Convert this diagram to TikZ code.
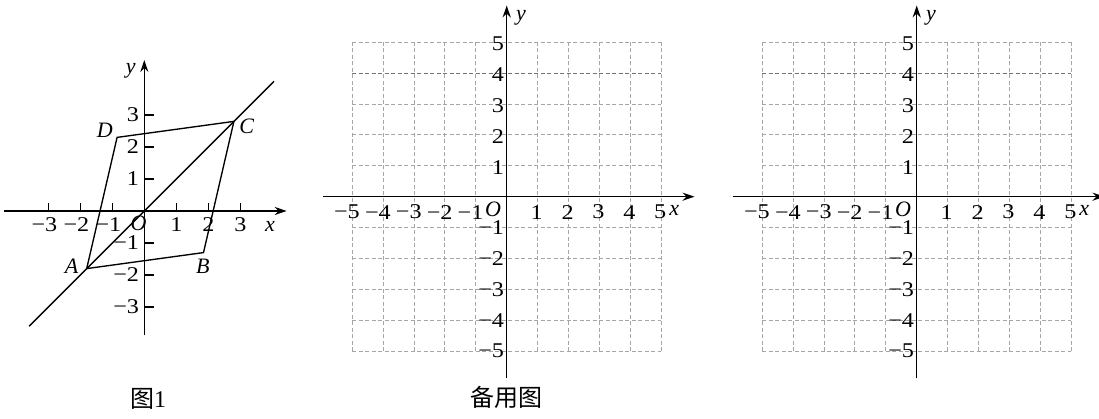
\documentclass[tikz,border=0pt]{standalone}
\usepackage{fontspec}
\setmainfont{Liberation Serif}
\newfontfamily\numfont[FakeStretch=1.15]{Liberation Serif}
\newfontfamily\cjk{Noto Sans CJK SC}
\usetikzlibrary{arrows.meta}
\begin{document}
\begin{tikzpicture}[x=1pt,y=1pt,
  axis/.style={line width=1.5pt,-{Stealth[length=12pt,width=8pt]}},
  figline/.style={line width=1.35pt},
  gridline/.style={black!35,line width=0.9pt,dash pattern=on 4pt off 2.5pt},
  gridline4/.style={black!55,line width=0.9pt,dash pattern=on 4pt off 2.5pt},
  lab/.style={font=\fontsize{21}{22}\numfont,inner sep=0pt},
  ilab/.style={font=\fontsize{22}{22}\selectfont\itshape,inner sep=0pt},
  captxt/.style={font=\fontsize{24}{26}\selectfont,inner sep=0pt}]
\fill[white] (0,0) rectangle (1099,419);
\useasboundingbox (0,0) rectangle (1099,419);

% ---------------- Figure 1 ----------------
\begin{scope}[shift={(144.3,208)},x=32pt,y=32pt]
  \coordinate (X1s) at (-4.4,0); \coordinate (X1e) at (4.45,0);
  \coordinate (Y1s) at (0,-3.88); \coordinate (Y1e) at (0,4.72);
  \draw[axis] (X1s) -- (X1e);
  \draw[axis] (Y1s) -- (Y1e);
  \foreach \k in {-3,-2,-1,1,2,3} {
    \draw[figline] (\k,0) -- (\k,0.24);
    \draw[figline] (0,\k) -- (0.3,\k);
  }
  \foreach \k in {-3,-2,-1} {
    \node[lab] (xl1\k) at (\k-0.12,-0.43) {−\the\numexpr-\k\relax};
    \node[lab,anchor=east] (yl1\k) at (-0.16,\k) {−\the\numexpr-\k\relax};
  }
  \foreach \k in {1,2,3} {
    \node[lab] (xl1\k) at (\k,-0.43) {\k};
    \node[lab,anchor=east] (yl1\k) at (-0.16,\k) {\k};
  }
  \node[ilab] (O1) at (-0.18,-0.37) {O};
  \node[ilab] (x1) at (3.93,-0.48) {x};
  \node[ilab] (y1) at (-0.42,4.38) {y};
  \coordinate (L1s) at (-3.6,-3.6); \coordinate (L1e) at (4.05,4.05);
  \draw[figline] (L1s) -- (L1e);
  \coordinate (A) at (-1.8,-1.8);
  \coordinate (B) at (1.85,-1.3);
  \coordinate (C) at (2.8,2.8);
  \coordinate (D) at (-0.85,2.3);
  \draw[figline,line join=miter] (A) -- (B) -- (C) -- (D) -- cycle;
  \node[ilab] (lA) at (-2.27,-1.74) {A};
  \node[ilab] (lB) at (1.83,-1.74) {B};
  \node[ilab] (lC) at (3.2,2.66) {C};
  \node[ilab] (lD) at (-1.23,2.53) {D};
\end{scope}
\node[captxt] (cap1) at (148,20) {{\cjk 图}1};

% ---------------- Figures 2 and 3 ----------------
\foreach \ox/\nm in {506.7/b,916.7/c} {
\begin{scope}[shift={(\ox,222.3)},x=30.9pt,y=30.9pt]
  \foreach \k in {-5,...,5} {
    \draw[gridline] (\k,-5) -- (\k,5);
  }
  \foreach \k in {-5,-4,-3,-2,-1,1,2,3,5} {
    \draw[gridline] (-5,\k) -- (5,\k);
  }
  \draw[gridline4] (-5,4) -- (5,4);
  \coordinate (X\nm s) at (-5.96,0); \coordinate (X\nm e) at (6.08,0);
  \coordinate (Y\nm s) at (0,-5.87); \coordinate (Y\nm e) at (0,6.19);
  \draw[axis] (X\nm s) -- (X\nm e);
  \draw[axis] (Y\nm s) -- (Y\nm e);
  \foreach \k in {-5,-4,-3,-2,-1} {
    \node[lab] (xl\nm\k) at (\k-0.17,-0.5) {−\the\numexpr-\k\relax};
    \node[lab,anchor=east] (yl\nm\k) at (-0.08,\k) {−\the\numexpr-\k\relax};
  }
  \foreach \k in {1,...,5} {
    \node[lab] (xl\nm\k) at (\k-0.03,-0.5) {\k};
    \node[lab,anchor=east] (yl\nm\k) at (-0.08,\k-0.05) {\k};
  }
  \node[ilab] (O\nm) at (-0.44,-0.4) {O};
  \node[ilab] (x\nm) at (5.42,-0.45) {x};
  \node[ilab] (y\nm) at (0.46,5.78) {y};
\end{scope}
}
\node[captxt] (cap2) at (506,21.5) {\cjk 备用图};
\end{tikzpicture}
\end{document}
